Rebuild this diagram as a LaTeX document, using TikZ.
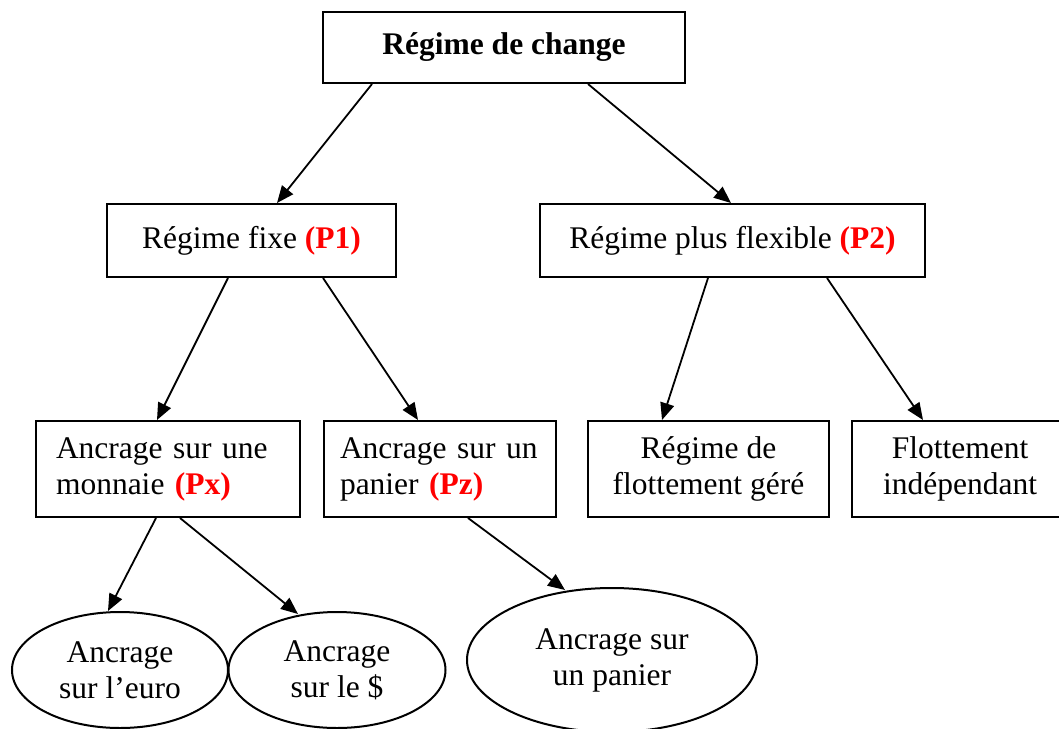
\documentclass[tikz,border=0pt]{standalone}
\usepackage{fontspec}
\setmainfont{Liberation Serif}
\usepackage{xcolor}
\usetikzlibrary{arrows.meta,shapes.geometric}

\newcommand{\rouge}[1]{\textcolor{red}{\textbf{#1}}}

\begin{document}
\begin{tikzpicture}[x=1pt, y=-1pt, >={Triangle[length=17pt,width=14pt]}]
    \tikzset{box/.style={draw, line width=2pt, inner xsep=20pt, inner ysep=0pt,
                 align=center, font=\fontsize{31.5}{36}\selectfont},
             oval/.style={draw, ellipse, line width=2pt, inner sep=0pt,
                 align=center, font=\fontsize{31.5}{36}\selectfont},
             fleche/.style={->, line width=1.8pt}}
    \useasboundingbox (0,0) rectangle (1059,728);
    % niveau 1
    \node[box, minimum width=362pt, minimum height=71pt] (change) at (504,47.5)
        {\textbf{Régime de change}};
    % niveau 2
    \node[box, minimum width=289pt, minimum height=73pt] (fixe) at (251.5,240.5)
        {Régime fixe \rouge{(P1)}};
    \node[box, minimum width=385pt, minimum height=73pt] (flexible) at (732.5,240.5)
        {Régime plus flexible \rouge{(P2)}};
    % niveau 3
    \node[box, align=left, text width=224pt, minimum height=96pt] (monnaie) at (168,469)
        {Ancrage sur une\\monnaie \rouge{(Px)}};
    \node[box, align=left, inner xsep=16pt, text width=200pt, minimum height=96pt] (panier) at (440,469)
        {Ancrage sur un\\panier \rouge{(Pz)}};
    \node[box, minimum width=241pt, minimum height=96pt] (gere) at (708.5,469)
        {Régime de\\flottement géré};
    \node[box, minimum width=216pt, minimum height=96pt] (indep) at (960,469)
        {Flottement\\indépendant};
    % niveau 4
    \node[oval, minimum width=216pt, minimum height=116pt] (euro) at (120,670)
        {Ancrage\\sur l’euro};
    \node[oval, minimum width=217pt, minimum height=116pt] (dollar) at (337,670)
        {Ancrage\\sur le \$};
    \node[oval, minimum width=290pt, minimum height=144pt] (ovpanier) at (612,660)
        {Ancrage sur\\un panier};

    \draw[fleche] ([xshift=-132pt]change.south) -- ([xshift=25.5pt]fixe.north);
    \draw[fleche] ([xshift=84pt]change.south) -- ([xshift=-1.5pt]flexible.north);
    \draw[fleche] ([xshift=-23.5pt]fixe.south) -- ([xshift=-11pt]monnaie.north);
    \draw[fleche] ([xshift=71.5pt]fixe.south) -- ([xshift=-22pt]panier.north);
    \draw[fleche] ([xshift=-24.5pt]flexible.south) -- ([xshift=-46.5pt]gere.north);
    \draw[fleche] ([xshift=94.5pt]flexible.south) -- ([xshift=-37pt]indep.north);
    \draw[fleche] ([xshift=-12pt]monnaie.south) -- ([xshift=-12pt]euro.north);
    \draw[fleche] ([xshift=12pt]monnaie.south) -- ([xshift=-39pt,yshift=-3pt]dollar.north);
    \draw[fleche] ([xshift=28pt]panier.south) -- ([xshift=-47pt,yshift=-3pt]ovpanier.north);
\end{tikzpicture}
\end{document}
